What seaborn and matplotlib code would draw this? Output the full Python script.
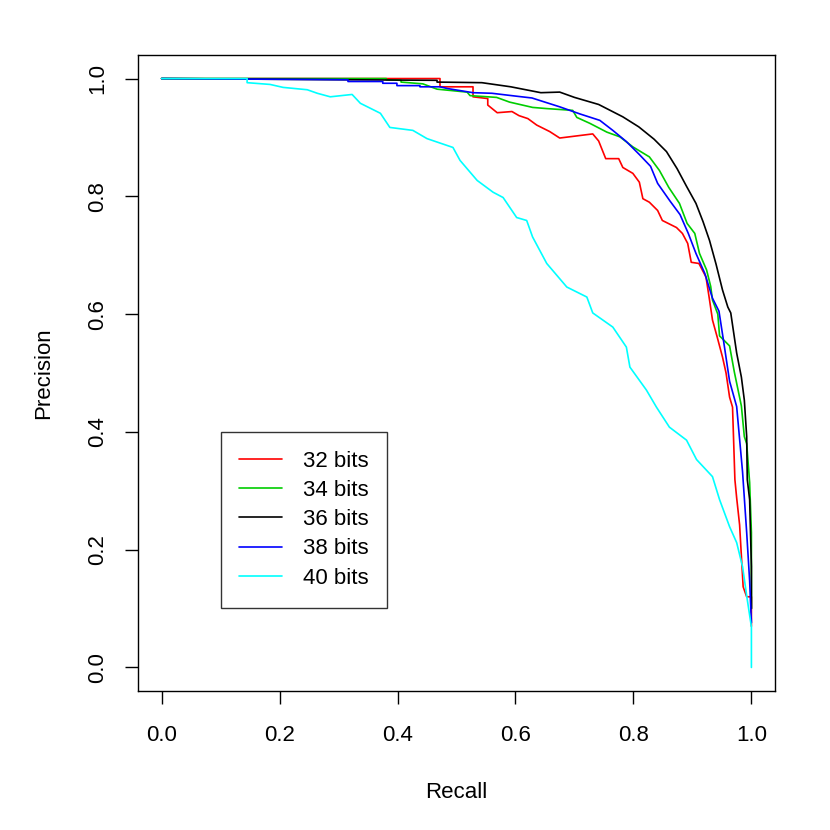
import matplotlib
matplotlib.use("Agg")
import matplotlib.pyplot as plt
import pandas as pd
import seaborn as sns

# Precision/recall curves, one pair of lists per code length
LABELS = ['32 bits', '34 bits', '36 bits', '38 bits', '40 bits']
COLORS = ['#FF0000', '#00CD00', '#000000', '#0000FF', '#00FFFF']

recall_32 = [0.0, 0.472, 0.472, 0.528, 0.528, 0.553, 0.553, 0.569, 0.594, 0.606, 0.621,
             0.636, 0.658, 0.675, 0.731, 0.741, 0.753, 0.775, 0.782, 0.799, 0.810, 0.816,
             0.827, 0.841, 0.849, 0.873, 0.883, 0.892, 0.898, 0.911, 0.923, 0.929, 0.934,
             0.942, 0.951, 0.957, 0.963, 0.968, 0.972, 0.975, 0.980, 0.986, 0.992, 1.0, 1.0]
precision_32 = [1.0, 1.0, 0.986, 0.986, 0.969, 0.966, 0.955, 0.942, 0.944, 0.937, 0.932,
                0.921, 0.910, 0.899, 0.906, 0.894, 0.864, 0.864, 0.849, 0.839, 0.824, 0.796,
                0.790, 0.776, 0.759, 0.747, 0.737, 0.720, 0.688, 0.686, 0.663, 0.624, 0.590,
                0.561, 0.527, 0.500, 0.459, 0.442, 0.319, 0.288, 0.242, 0.137, 0.120, 0.120, 0.07]

recall_34 = [0.0, 0.381, 0.381, 0.406, 0.406, 0.443, 0.467, 0.518, 0.523, 0.568, 0.590,
             0.629, 0.653, 0.697, 0.704, 0.726, 0.755, 0.777, 0.799, 0.827, 0.844, 0.860,
             0.878, 0.891, 0.904, 0.912, 0.924, 0.931, 0.934, 0.943, 0.946, 0.963, 0.971,
             0.983, 0.988, 0.992, 0.997, 1.0, 1.0]
precision_34 = [1.0, 1.0, 0.998, 0.997, 0.994, 0.991, 0.982, 0.977, 0.971, 0.968, 0.960,
                0.951, 0.949, 0.946, 0.934, 0.924, 0.909, 0.901, 0.884, 0.867, 0.844, 0.815,
                0.788, 0.754, 0.737, 0.703, 0.675, 0.647, 0.624, 0.600, 0.563, 0.546, 0.502,
                0.444, 0.392, 0.380, 0.314, 0.229, 0.10]

recall_36 = [0.0, 0.467, 0.467, 0.543, 0.592, 0.643, 0.675, 0.700, 0.741, 0.782, 0.809,
             0.835, 0.856, 0.874, 0.890, 0.906, 0.918, 0.929, 0.940, 0.951, 0.960, 0.965,
             0.975, 0.983, 0.988, 0.992, 0.993, 0.997, 1.0, 1.0]
precision_36 = [1.0, 0.997, 0.994, 0.993, 0.986, 0.976, 0.977, 0.968, 0.956, 0.935, 0.918,
                0.897, 0.876, 0.847, 0.817, 0.788, 0.757, 0.725, 0.685, 0.641, 0.612, 0.602,
                0.534, 0.493, 0.454, 0.392, 0.319, 0.285, 0.171, 0.10]

recall_38 = [0.0, 0.316, 0.316, 0.375, 0.375, 0.399, 0.399, 0.438, 0.438, 0.472, 0.485,
             0.528, 0.560, 0.602, 0.628, 0.653, 0.675, 0.709, 0.743, 0.765, 0.788, 0.810,
             0.829, 0.841, 0.862, 0.879, 0.893, 0.906, 0.921, 0.934, 0.945, 0.953, 0.963,
             0.975, 0.985, 0.992, 0.997, 1.0]
precision_38 = [1.0, 0.998, 0.995, 0.995, 0.992, 0.992, 0.988, 0.988, 0.986, 0.986, 0.983,
                0.976, 0.975, 0.970, 0.967, 0.959, 0.952, 0.940, 0.929, 0.912, 0.893, 0.871,
                0.851, 0.822, 0.792, 0.769, 0.737, 0.703, 0.669, 0.627, 0.605, 0.553, 0.486,
                0.443, 0.332, 0.229, 0.147, 0.076]

recall_40 = [0.0, 0.145, 0.145, 0.184, 0.206, 0.247, 0.264, 0.286, 0.323, 0.337, 0.371,
             0.387, 0.426, 0.450, 0.494, 0.506, 0.535, 0.562, 0.579, 0.602, 0.619, 0.629,
             0.653, 0.687, 0.721, 0.731, 0.765, 0.788, 0.794, 0.822, 0.839, 0.861, 0.890,
             0.907, 0.934, 0.946, 0.963, 0.975, 0.985, 0.993, 1.0, 1.0]
precision_40 = [1.0, 1.0, 0.993, 0.990, 0.985, 0.981, 0.975, 0.969, 0.973, 0.958, 0.941,
                0.917, 0.912, 0.898, 0.883, 0.861, 0.827, 0.807, 0.798, 0.764, 0.759, 0.731,
                0.686, 0.646, 0.629, 0.602, 0.578, 0.544, 0.510, 0.471, 0.442, 0.408, 0.386,
                0.353, 0.324, 0.285, 0.239, 0.212, 0.171, 0.115, 0.069, 0.0]

RECALLS = [recall_32, recall_34, recall_36, recall_38, recall_40]
PRECISIONS = [precision_32, precision_34, precision_36, precision_38, precision_40]
TICKS = [0.0, 0.2, 0.4, 0.6, 0.8, 1.0]

sns.set_style("ticks")
plt.rcParams['font.family'] = ['Liberation Sans', 'DejaVu Sans']
plt.rcParams['text.color'] = 'black'
plt.rcParams['axes.labelcolor'] = 'black'

fig = plt.figure(figsize=(8.3, 8.3), dpi=100)
ax = fig.add_axes([138 / 830, 139 / 830, 637 / 830, 636 / 830])

for label, color, rec, prec in zip(LABELS, COLORS, RECALLS, PRECISIONS):
    df = pd.DataFrame({'Recall': rec, 'Precision': prec})
    sns.lineplot(data=df, x='Recall', y='Precision', color=color, label=label,
                 estimator=None, sort=False, linewidth=1.2, ax=ax)

ax.set_xlim(-0.04, 1.04)
ax.set_ylim(-0.04, 1.04)
ax.set_xticks(TICKS)
ax.set_yticks(TICKS)
ax.set_xticklabels([f'{t:.1f}' for t in TICKS])
ax.set_yticklabels([f'{t:.1f}' for t in TICKS], rotation=90, va='center')
ax.tick_params(axis='both', direction='out', length=9.5, width=1, color='black',
               labelsize=16, labelcolor='black')
ax.tick_params(axis='x', pad=15)
ax.tick_params(axis='y', pad=12)
for s in ax.spines.values():
    s.set_visible(True)
    s.set_color('black')
    s.set_linewidth(1)
ax.set_xlabel('Recall', fontsize=16, labelpad=26)
ax.set_ylabel('Precision', fontsize=16, labelpad=24)

leg = ax.legend(loc='upper left', bbox_to_anchor=(0.1, 0.4), bbox_transform=ax.transData,
                borderaxespad=0, fontsize=16, frameon=True, fancybox=False,
                handlelength=1.9, handletextpad=0.95, labelspacing=0.37, borderpad=0.85)
leg.get_frame().set_edgecolor('black')
leg.get_frame().set_linewidth(1)
for t in leg.get_texts():
    t.set_color('black')

fig.savefig('out.png', dpi=100, facecolor='white')
